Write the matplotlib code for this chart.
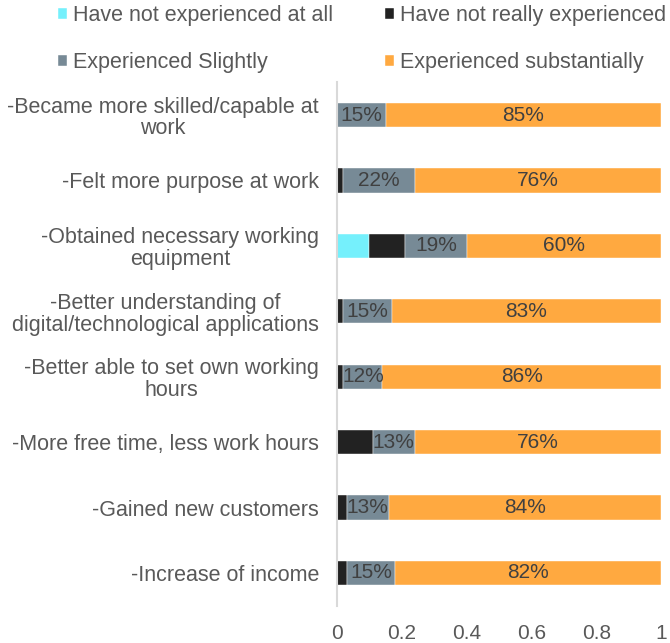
import numpy as np
import matplotlib.pyplot as plt

plt.rcParams['font.family'] = ['Liberation Sans', 'DejaVu Sans']

categories = ['-Became more skilled/capable at\nwork',
              '-Felt more purpose at work',
              '-Obtained necessary working\nequipment',
              '-Better understanding of\ndigital/technological applications',
              '-Better able to set own working\nhours',
              '-More free time, less work hours',
              '-Gained new customers',
              '-Increase of income']
not_at_all = [0.00, 0.00, 0.10, 0.00, 0.00, 0.00, 0.00, 0.00]
not_really = [0.00, 0.02, 0.11, 0.02, 0.02, 0.11, 0.03, 0.03]
slightly = [0.15, 0.22, 0.19, 0.15, 0.12, 0.13, 0.13, 0.15]
substantially = [0.85, 0.76, 0.60, 0.83, 0.86, 0.76, 0.84, 0.82]
series_names = ['Have not experienced at all', 'Have not really experienced',
                'Experienced Slightly', 'Experienced substantially']
colors = ['#75F0FC', '#222222', '#778A96', '#FFA940']
text_col = '#595959'

fig = plt.figure(figsize=(6.7, 6.43), dpi=100)
ax = fig.add_axes([0.503, 0.058, 0.4836, 0.814])

y = np.arange(len(categories))
left = np.zeros(len(categories))
bars = []
for vals, name, c in zip([not_at_all, not_really, slightly, substantially], series_names, colors):
    vals = np.array(vals)
    b = ax.barh(y, vals, left=left, height=0.37, color=c, label=name,
                edgecolor='white', linewidth=0.3)
    bars.append(b)
    if name in ('Experienced Slightly', 'Experienced substantially'):
        for yi, l, v in zip(y, left, vals):
            ax.text(l + v / 2, yi, f'{v * 100:.0f}%', ha='center', va='center',
                    fontsize=15, color='#404040')
    left += vals

ax.set_yticks(y)
ax.set_yticklabels(categories, fontsize=15.5, color=text_col, linespacing=1.05,
                   multialignment='center')
ax.set_ylim(len(categories) - 0.5, -0.5)
ax.set_xlim(0, 1)
ax.set_xticks([0, 0.2, 0.4, 0.6, 0.8, 1])
ax.set_xticklabels(['0', '0.2', '0.4', '0.6', '0.8', '1'], fontsize=15, color=text_col)
ax.tick_params(axis='both', length=0)
ax.tick_params(axis='y', pad=13)
ax.tick_params(axis='x', pad=13)
for s in ['top', 'right', 'bottom']:
    ax.spines[s].set_visible(False)
ax.spines['left'].set_color('#D9D9D9')
ax.spines['left'].set_linewidth(1.5)

order = [0, 2, 1, 3]
fig.legend([bars[i] for i in order], [series_names[i] for i in order],
           ncol=2, loc='upper left', bbox_to_anchor=(0.058, 1.022), frameon=False,
           fontsize=15.5, labelcolor=text_col, handlelength=0.42, handleheight=0.42,
           handletextpad=0.28, columnspacing=2.4, labelspacing=1.2)

fig.savefig('out.png', dpi=100)
